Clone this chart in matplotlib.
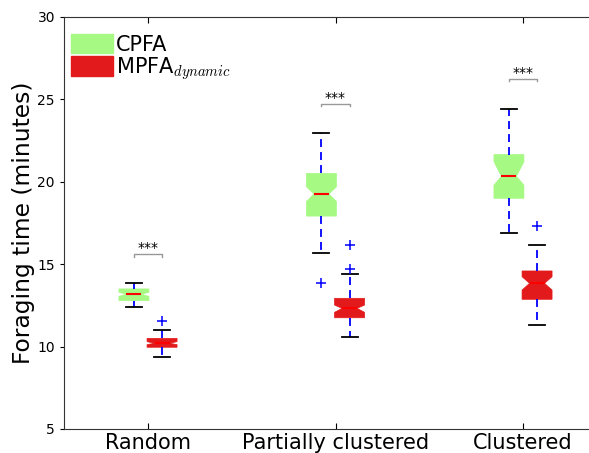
import matplotlib
matplotlib.use('Agg')
import matplotlib.pyplot as plt
from matplotlib.patches import Patch

plt.rcParams['mathtext.fontset'] = 'cm'

# group labels and box statistics
groups = ['Random', 'Partially clustered', 'Clustered']
series = ['CPFA', 'MPFA$_{dynamic}$']

cpfa_whislo = [12.42, 15.66, 16.87]
cpfa_q1     = [12.79, 17.92, 19.00]
cpfa_med    = [13.17, 19.26, 20.33]
cpfa_q3     = [13.50, 20.51, 21.65]
cpfa_whishi = [13.88, 22.98, 24.44]
cpfa_cilo   = [13.05, 18.80, 19.80]
cpfa_cihi   = [13.30, 19.70, 21.22]
cpfa_fliers = [[], [13.88], []]

mpfa_whislo = [9.35, 10.60, 11.31]
mpfa_q1     = [9.96, 11.75, 12.87]
mpfa_med    = [10.20, 12.32, 13.84]
mpfa_q3     = [10.50, 12.93, 14.59]
mpfa_whishi = [11.01, 14.39, 16.17]
mpfa_cilo   = [10.12, 12.08, 13.43]
mpfa_cihi   = [10.30, 12.52, 14.24]
mpfa_fliers = [[11.57], [16.14, 14.71], [17.32]]

# significance bracket heights
sig_y = [15.6, 24.72, 26.24]
sig_text = ['***', '***', '***']


def make_stats(whislo, q1, med, q3, whishi, cilo, cihi, fliers):
    return [dict(whislo=a, q1=b, med=c, q3=d, whishi=e, cilo=f, cihi=g, fliers=h)
            for a, b, c, d, e, f, g, h in zip(whislo, q1, med, q3, whishi, cilo, cihi, fliers)]


def main():
    fig = plt.figure(figsize=(5.89, 4.53), dpi=100)
    ax = fig.add_axes([64 / 589, 24 / 453, (589 - 64) / 589, (429 - 17) / 453])

    green = '#a6f983'
    red = '#e31a1c'
    off = 0.075
    xs = [i + 1 for i in range(len(groups))]

    for stats, pos, col in [
        (make_stats(cpfa_whislo, cpfa_q1, cpfa_med, cpfa_q3, cpfa_whishi,
                    cpfa_cilo, cpfa_cihi, cpfa_fliers), [x - off for x in xs], green),
        (make_stats(mpfa_whislo, mpfa_q1, mpfa_med, mpfa_q3, mpfa_whishi,
                    mpfa_cilo, mpfa_cihi, mpfa_fliers), [x + off for x in xs], red),
    ]:
        ax.bxp(stats, positions=pos, widths=0.16, shownotches=True, patch_artist=True,
               capwidths=0.085, manage_ticks=False,
               boxprops=dict(facecolor=col, edgecolor=col, linewidth=0.5),
               medianprops=dict(color='red', linewidth=1.5),
               whiskerprops=dict(color='blue', linestyle=(0, (4.4, 2.8)), linewidth=1.3),
               capprops=dict(color='black', linewidth=1.3),
               flierprops=dict(marker='+', markeredgecolor='blue', markersize=7,
                               markeredgewidth=1.1, linestyle='none'))

    # significance brackets
    for x, y, t in zip(xs, sig_y, sig_text):
        ax.plot([x - off, x - off, x + off, x + off], [y - 0.15, y, y, y - 0.15],
                color='#999999', linewidth=1)
        ax.text(x, y - 0.05, t, ha='center', va='bottom', fontsize=10)

    ax.set_xlim(0.552, 3.352)
    ax.set_ylim(5, 30)
    ax.set_xticks(xs)
    ax.set_xticklabels(groups, fontsize=15)
    ax.set_yticks([5, 10, 15, 20, 25, 30])
    ax.tick_params(axis='y', labelsize=10, direction='out', length=3)
    ax.tick_params(axis='x', direction='in', length=4, top=True, pad=3)
    ax.spines['right'].set_visible(False)
    for s in ['left', 'bottom', 'top']:
        ax.spines[s].set_color('#333333')
    ax.set_ylabel('Foraging time (minutes)', fontsize=16.8, labelpad=2)

    handles = [Patch(facecolor=green, edgecolor=green), Patch(facecolor=red, edgecolor=red)]
    ax.legend(handles, series, loc='upper left', fontsize=15, frameon=False,
              bbox_to_anchor=(7 / 525, 1 - 17 / 412),
              handlelength=2.0, handleheight=1.05, handletextpad=0.15, labelspacing=0.0,
              borderaxespad=0.0, borderpad=0.0)

    fig.savefig('out.png', dpi=100)


if __name__ == '__main__':
    main()
